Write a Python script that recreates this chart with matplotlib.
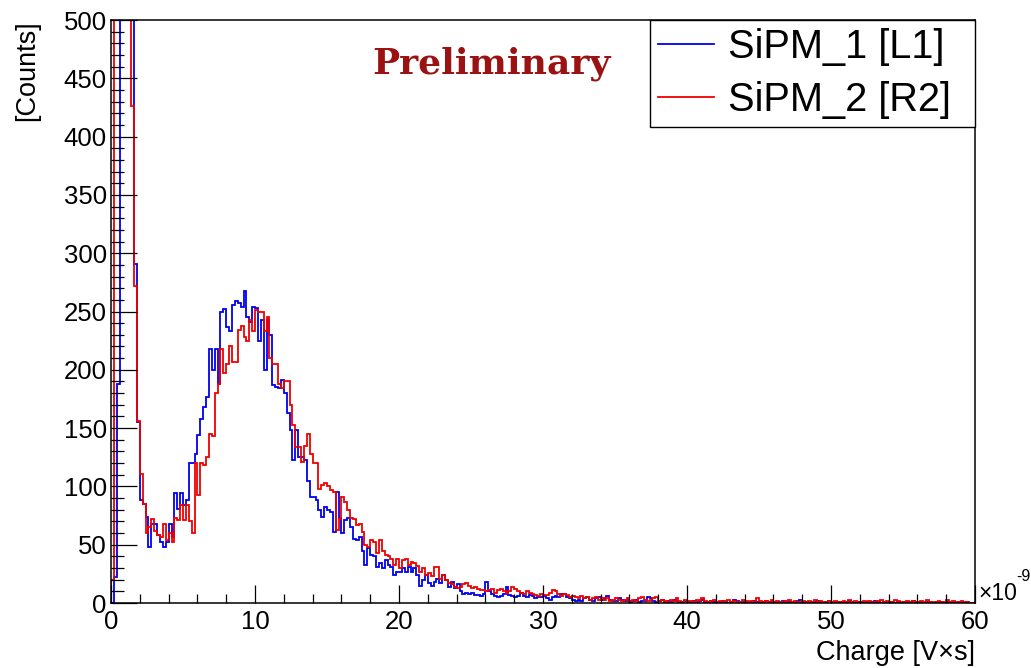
import numpy as np
import matplotlib.pyplot as plt

plt.rcParams['font.family'] = ['Liberation Sans', 'DejaVu Sans']

# histogram: 300 bins of 0.2e-9 V*s from 0 to 60e-9 V*s
BIN_WIDTH = 0.2
X_MAX = 60

sipm1_counts = [
    0, 22, 188, 1400, 1100, 800, 640, 530, 291, 155,
    88, 85, 74, 48, 68, 68, 58, 52, 48, 52,
    68, 57, 94, 81, 94, 84, 88, 120, 120, 128,
    144, 158, 168, 177, 218, 200, 218, 188, 250, 252,
    237, 233, 256, 259, 257, 254, 268, 245, 241, 254,
    253, 225, 243, 200, 243, 230, 187, 185, 184, 191,
    180, 163, 148, 123, 148, 125, 125, 123, 105, 91,
    91, 88, 80, 74, 82, 80, 78, 61, 95, 73,
    60, 71, 73, 65, 55, 54, 57, 45, 33, 47,
    41, 40, 31, 34, 30, 37, 33, 31, 24, 27,
    27, 30, 27, 31, 27, 30, 24, 15, 20, 24,
    17, 15, 18, 21, 17, 24, 20, 14, 18, 13,
    16, 10, 8, 9, 8, 9, 7, 7, 6, 8,
    18, 10, 8, 6, 5, 6, 8, 14, 7, 6,
    5, 6, 9, 6, 5, 7, 6, 4, 5, 5,
    6, 4, 3, 5, 6, 5, 8, 8, 5, 4,
    3, 2, 3, 2, 4, 5, 3, 2, 4, 5,
    3, 4, 6, 3, 2, 2, 4, 3, 2, 3,
    1, 2, 3, 1, 2, 2, 5, 4, 2, 1,
    2, 3, 1, 2, 1, 3, 2, 1, 1, 2,
    1, 1, 2, 1, 2, 3, 1, 1, 2, 1,
    0, 1, 2, 1, 0, 1, 3, 2, 1, 1,
    0, 1, 1, 2, 1, 0, 1, 2, 1, 0,
    1, 1, 0, 2, 1, 1, 0, 1, 2, 3,
    1, 1, 0, 1, 1, 2, 1, 0, 1, 2,
    1, 0, 1, 1, 0, 1, 2, 1, 0, 1,
    1, 0, 1, 0, 1, 2, 1, 0, 1, 0,
    1, 1, 0, 1, 0, 1, 1, 0, 2, 1,
    0, 1, 0, 1, 1, 0, 1, 0, 1, 0,
    1, 0, 1, 0, 1, 0, 0, 1, 0, 0,
]

sipm2_counts = [
    20, 3200, 2600, 2000, 1400, 900, 620, 426, 272, 156,
    111, 85, 60, 65, 72, 62, 58, 57, 68, 54,
    60, 52, 73, 71, 84, 71, 84, 70, 60, 120,
    93, 120, 118, 125, 145, 143, 180, 188, 218, 197,
    205, 220, 207, 207, 234, 238, 228, 225, 243, 233,
    251, 250, 250, 233, 245, 210, 205, 205, 188, 184,
    190, 190, 170, 153, 134, 134, 121, 135, 145, 128,
    120, 120, 98, 101, 103, 100, 97, 95, 63, 72,
    91, 87, 80, 73, 72, 67, 68, 61, 50, 48,
    54, 52, 43, 54, 45, 41, 40, 38, 33, 38,
    30, 37, 38, 33, 35, 34, 32, 27, 30, 24,
    26, 23, 31, 31, 21, 24, 20, 17, 16, 14,
    13, 14, 16, 17, 15, 13, 14, 12, 11, 11,
    10, 11, 12, 9, 11, 12, 10, 9, 10, 14,
    12, 10, 9, 8, 10, 9, 8, 7, 6, 8,
    7, 7, 9, 11, 10, 8, 6, 8, 7, 5,
    6, 5, 4, 6, 4, 5, 3, 4, 5, 3,
    4, 3, 4, 2, 3, 4, 3, 2, 3, 4,
    2, 3, 2, 4, 5, 3, 2, 3, 4, 5,
    2, 3, 2, 1, 3, 2, 4, 2, 1, 3,
    2, 2, 1, 3, 2, 4, 2, 1, 2, 3,
    1, 2, 1, 2, 3, 1, 2, 1, 1, 3,
    2, 1, 2, 1, 4, 2, 1, 2, 1, 3,
    1, 2, 1, 1, 2, 3, 1, 2, 1, 1,
    2, 1, 2, 1, 3, 1, 2, 1, 1, 2,
    1, 2, 1, 1, 2, 1, 3, 1, 2, 1,
    1, 2, 1, 2, 1, 1, 2, 3, 1, 2,
    1, 1, 3, 2, 1, 1, 2, 1, 2, 1,
    1, 2, 1, 3, 1, 1, 1, 2, 1, 1,
    3, 1, 2, 1, 1, 2, 1, 1, 0, 0,
]

series_labels = ['SiPM_1 [L1]', 'SiPM_2 [R2]']
x_ticks = [0, 10, 20, 30, 40, 50, 60]
y_ticks = [0, 50, 100, 150, 200, 250, 300, 350, 400, 450, 500]


def bin_edges(counts):
    return np.arange(len(counts) + 1) * BIN_WIDTH


fig = plt.figure(figsize=(10.31, 6.68), dpi=100)
ax = fig.add_axes([0.1077, 0.0973, 0.8380, 0.8727])

ax.stairs(sipm1_counts, bin_edges(sipm1_counts), color='#0000f0', lw=1.3,
          label=series_labels[0])
ax.stairs(sipm2_counts, bin_edges(sipm2_counts), color='#f00000', lw=1.3,
          label=series_labels[1])

ax.set_xlim(0, X_MAX)
ax.set_ylim(0, 500)
ax.set_xticks(x_ticks)
ax.set_xticks(np.arange(0, X_MAX + 1, 2), minor=True)
ax.set_yticks(y_ticks)
ax.set_yticks(np.arange(0, 501, 10), minor=True)

ax.tick_params(which='both', direction='in', top=False, right=False,
               colors='black', width=0.9, labelsize=18.5)
ax.tick_params(axis='x', which='major', length=13, pad=5)
ax.tick_params(axis='x', which='minor', length=6.5)
ax.tick_params(axis='y', which='major', length=18.5, pad=3)
ax.tick_params(axis='y', which='minor', length=9.3)
for sp in ax.spines.values():
    sp.set_linewidth(1.1)

ax.set_xlabel('Charge [V×s]', fontsize=19.5, loc='right', labelpad=4)
ax.set_ylabel('[Counts]', fontsize=19.5, loc='top', labelpad=17)

# axis exponent, ROOT style, next to the end of the x axis
fig.text(978 / 1031, 1 - 600 / 668, '×10', ha='left', va='baseline',
         fontsize=16.5)
fig.text(1016 / 1031, 1 - 581 / 668, '-9', ha='left', va='baseline',
         fontsize=11.5)

fig.text(0.477, 0.905, 'Preliminary', ha='center', va='center',
         fontsize=26, fontweight='bold', family='DejaVu Serif',
         color='#9a1212')

leg = ax.legend(loc='upper left', bbox_to_anchor=(0.6238, 0.0, 0.3762, 1.0),
                mode='expand', borderaxespad=0,
                fontsize=28.6, fancybox=False, edgecolor='black', framealpha=1,
                handlelength=1.41, handletextpad=0.35, borderpad=0.2,
                labelspacing=0.38)
leg.get_frame().set_linewidth(1.0)

fig.savefig('out.png', dpi=100)
